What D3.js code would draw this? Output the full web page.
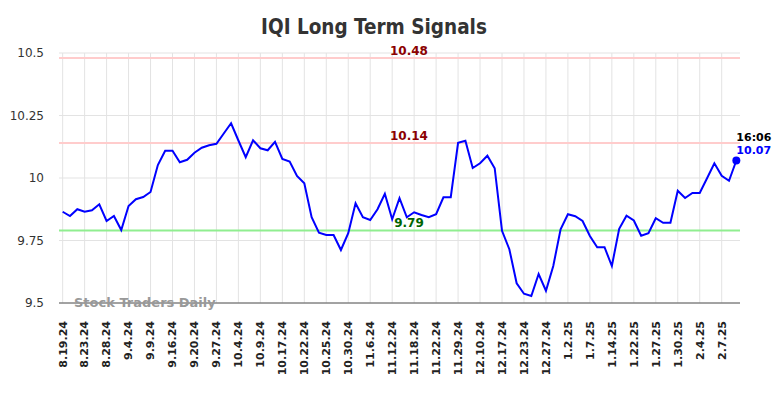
<!DOCTYPE html>
<html>
<head>
<meta charset="utf-8">
<script src="https://cdn.jsdelivr.net/npm/d3@7"></script>
<style>
  html, body { margin: 0; padding: 0; background: #fff; }
  svg { display: block; font-family: 'DejaVu Sans', sans-serif; }
</style>
</head>
<body>
<svg id="chart" width="784" height="398"></svg>
<script>
// tick labels, one for every third point
const tickLabels = ['8.19.24', '8.23.24', '8.28.24', '9.4.24', '9.9.24', '9.16.24', '9.20.24', '9.27.24',
    '10.4.24', '10.9.24', '10.17.24', '10.22.24', '10.25.24', '10.30.24', '11.6.24', '11.12.24',
    '11.18.24', '11.22.24', '11.29.24', '12.10.24', '12.17.24', '12.23.24', '12.27.24', '1.2.25',
    '1.7.25', '1.14.25', '1.22.25', '1.27.25', '1.30.25', '2.4.25', '2.7.25']

const prices = [
    9.865, 9.848, 9.875, 9.865, 9.871, 9.895, 9.828, 9.848, 9.792, 9.888,
    9.915, 9.924, 9.944, 10.052, 10.109, 10.109, 10.063, 10.073, 10.101, 10.121,
    10.131, 10.137, 10.178, 10.219, 10.15, 10.083, 10.151, 10.119, 10.111, 10.145,
    10.076, 10.066, 10.008, 9.979, 9.843, 9.781, 9.772, 9.772, 9.712, 9.779,
    9.899, 9.843, 9.832, 9.875, 9.937, 9.835, 9.919, 9.843, 9.863, 9.852,
    9.843, 9.855, 9.923, 9.923, 10.141, 10.149, 10.04, 10.059, 10.089, 10.039,
    9.789, 9.715, 9.579, 9.537, 9.528, 9.616, 9.549, 9.648, 9.795, 9.855,
    9.847, 9.828, 9.768, 9.723, 9.723, 9.648, 9.797, 9.849, 9.83, 9.769,
    9.779, 9.839, 9.821, 9.821, 9.949, 9.92, 9.94, 9.94, 9.999, 10.059,
    10.009, 9.989, 10.07
]

const yTicks = [9.5, 9.75, 10, 10.25, 10.5]
const yTickLabels = ['9.5', '9.75', '10', '10.25', '10.5']

const levels = [
    { value: 10.48, label: '10.48', line: '#ffcccc', text: '#8b0000' },
    { value: 10.14, label: '10.14', line: '#ffcccc', text: '#8b0000' },
    { value: 9.79, label: '9.79', line: '#90ee90', text: '#006400' }
]

const lastTime = '16:06'
const lastLabel = '10.07'

const PLOT = { left: 59, right: 740, top: 53, bottom: 303 }

const svg = d3.select('#chart')

const xScale = d3.scaleLinear()
    .domain([-0.5, prices.length - 0.5])
    .range([PLOT.left, PLOT.right])

const yScale = d3.scaleLinear()
    .domain([9.5, 10.5])
    .range([PLOT.bottom, PLOT.top])

// Title
svg.append('text')
    .attr('x', 374).attr('y', 34)
    .attr('text-anchor', 'middle')
    .style('font-family', "'DejaVu Sans Condensed', 'DejaVu Sans', sans-serif")
    .style('font-stretch', 'condensed')
    .style('font-weight', 'bold')
    .style('font-size', '20.5px')
    .attr('fill', '#333')
    .text('IQI Long Term Signals')

// Grid
const tickIdx = tickLabels.map((d, i) => i * 3)

svg.append('g').selectAll('line').data(tickIdx).enter()
    .append('line')
    .attr('x1', d => xScale(d)).attr('x2', d => xScale(d))
    .attr('y1', PLOT.top).attr('y2', PLOT.bottom)
    .attr('stroke', '#e3e3e3').attr('stroke-width', 1)

svg.append('g').selectAll('line').data(yTicks).enter()
    .append('line')
    .attr('x1', PLOT.left).attr('x2', PLOT.right)
    .attr('y1', d => yScale(d)).attr('y2', d => yScale(d))
    .attr('stroke', '#e3e3e3').attr('stroke-width', 1)

// Y axis labels
svg.append('g').selectAll('text').data(yTicks).enter()
    .append('text')
    .attr('x', 44).attr('y', d => yScale(d))
    .attr('dy', '0.35em')
    .attr('text-anchor', 'end')
    .style('font-size', '12px')
    .attr('fill', '#333')
    .text((d, i) => yTickLabels[i])

// X axis labels
svg.append('g').selectAll('text').data(tickIdx).enter()
    .append('text')
    .attr('transform', d => `translate(${xScale(d)},321) rotate(-90)`)
    .attr('dy', '0.35em')
    .attr('text-anchor', 'end')
    .style('font-size', '11px')
    .style('font-weight', 'bold')
    .attr('fill', '#222')
    .text((d, i) => tickLabels[i])

// Signal levels
levels.forEach(l => {
    svg.append('line')
        .attr('x1', PLOT.left).attr('x2', PLOT.right)
        .attr('y1', yScale(l.value)).attr('y2', yScale(l.value))
        .attr('stroke', l.line).attr('stroke-width', 2)
    svg.append('text')
        .attr('x', 409).attr('y', yScale(l.value) - 3.5)
        .attr('text-anchor', 'middle')
        .style('font-size', '12px')
        .style('font-weight', 'bold')
        .attr('fill', l.text)
        .text(l.label)
})

// Bottom axis line
svg.append('line')
    .attr('x1', PLOT.left).attr('x2', PLOT.right)
    .attr('y1', PLOT.bottom).attr('y2', PLOT.bottom)
    .attr('stroke', '#555').attr('stroke-width', 1)

// Watermark
svg.append('text')
    .attr('x', 74).attr('y', 307)
    .style('font-size', '13px')
    .style('font-weight', 'bold')
    .attr('fill', '#999')
    .text('Stock Traders Daily')

// Price line
const line = d3.line()
    .x((d, i) => xScale(i))
    .y(d => yScale(d))

svg.append('path').datum(prices)
    .attr('fill', 'none')
    .attr('stroke', '#0000ff')
    .attr('stroke-width', 2)
    .attr('d', line)

const lastI = prices.length - 1
svg.append('circle')
    .attr('cx', xScale(lastI)).attr('cy', yScale(prices[lastI]))
    .attr('r', 4).attr('fill', '#0000ff')

svg.append('text')
    .attr('x', xScale(lastI)).attr('y', yScale(prices[lastI]) - 20)
    .style('font-size', '11px').style('font-weight', 'bold')
    .attr('fill', '#000')
    .text(lastTime)

svg.append('text')
    .attr('x', xScale(lastI)).attr('y', yScale(prices[lastI]) - 7)
    .style('font-size', '11px').style('font-weight', 'bold')
    .attr('fill', '#0000ff')
    .text(lastLabel)
</script>
</body>
</html>
